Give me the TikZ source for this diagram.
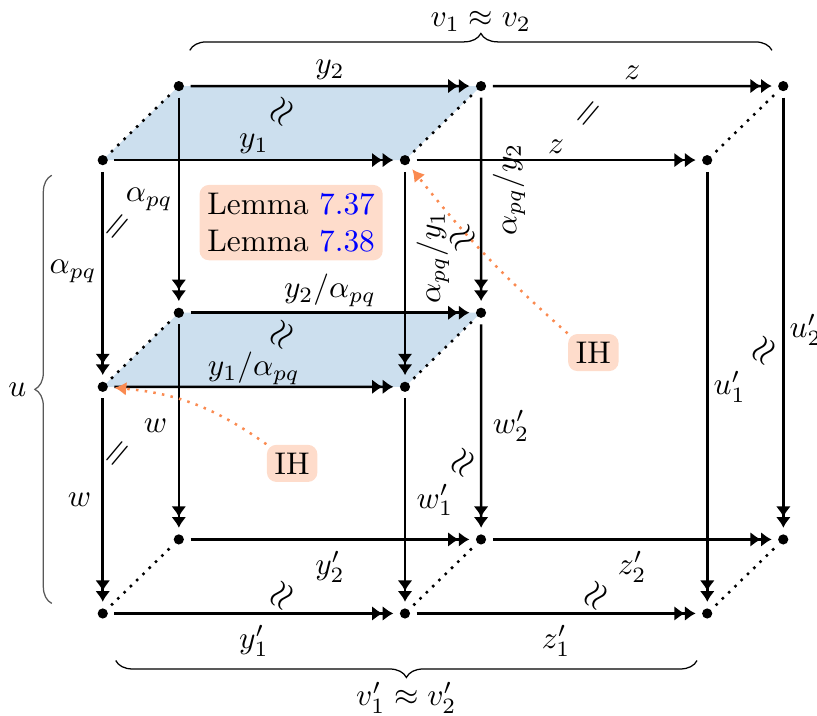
\documentclass[tikz,border=0pt]{standalone}
\usepackage{amsmath}
\usetikzlibrary{arrows.meta,decorations.pathreplacing,backgrounds}

\definecolor{vlakblauw}{RGB}{204,223,238}
\definecolor{ihoranje}{RGB}{250,138,80}

\begin{document}
\begin{tikzpicture}[scale=1.13,
    >={Latex[length=3.4pt,width=4.8pt]},
    punt/.style={circle, fill, inner sep=1.15pt, outer sep=2.1pt},
    pijl/.style={->>, thick},
    stippel/.style={thick, dotted},
    lab/.style={inner sep=1.6pt},
    gelijk/.style={rotate=50, inner sep=0pt, font=\large},
    ongeveer/.style={rotate=60, inner sep=0pt, font=\large},
    kader/.style={fill=ihoranje!30, rounded corners=3pt, inner sep=2.5pt},
    ihpijl/.style={thick, dotted, ihoranje, -{Latex[length=3.8pt,width=4.4pt]}},
    accolade/.style={decorate, decoration={brace, amplitude=5.4pt}, thin}]
    \useasboundingbox (-1.02,-1.01) rectangle (7.09,6.09);

    % Voorste punten
    \node[punt] (f11) at (0,4.5) {};
    \node[punt] (f12) at (3,4.5) {};
    \node[punt] (f13) at (6,4.5) {};
    \node[punt] (f21) at (0,2.25) {};
    \node[punt] (f22) at (3,2.25) {};
    \node[punt] (f31) at (0,0) {};
    \node[punt] (f32) at (3,0) {};
    \node[punt] (f33) at (6,0) {};

    % Achterste punten
    \node[punt] (b11) at (0.755,5.235) {};
    \node[punt] (b12) at (3.755,5.235) {};
    \node[punt] (b13) at (6.755,5.235) {};
    \node[punt] (b21) at (0.755,2.985) {};
    \node[punt] (b22) at (3.755,2.985) {};
    \node[punt] (b31) at (0.755,0.735) {};
    \node[punt] (b32) at (3.755,0.735) {};
    \node[punt] (b33) at (6.755,0.735) {};

    % Blauwe vlakken
    \begin{scope}[on background layer]
        \fill[vlakblauw] (f11.center) -- (f12.center) -- (b12.center) -- (b11.center) -- cycle;
        \fill[vlakblauw] (f21.center) -- (f22.center) -- (b22.center) -- (b21.center) -- cycle;
    \end{scope}

    % Stippellijnen naar achteren
    \foreach \p in {11,12,13,21,22,31,32,33}
        \draw[stippel] (f\p) -- (b\p);

    % Horizontale pijlen
    \draw[pijl] (b11) -- (b12) node[lab, midway, above] {$y_2$};
    \draw[pijl] (f11) -- (f12) node[lab, midway, above] {$y_1$};
    \draw[pijl] (b12) -- (b13) node[lab, midway, above] {$z$};
    \draw[pijl] (f12) -- (f13) node[lab, midway, above] {$z$};
    \draw[pijl] (b21) -- (b22) node[lab, midway, above] {$y_2/\alpha_{pq}$};
    \draw[pijl] (f21) -- (f22) node[midway, above, inner sep=0.4pt] {$y_1/\alpha_{pq}$};
    \draw[pijl] (b31) -- (b32) node[midway, below] {$y'_2$};
    \draw[pijl] (f31) -- (f32) node[midway, below] {$y'_1$};
    \draw[pijl] (b32) -- (b33) node[midway, below] {$z'_2$};
    \draw[pijl] (f32) -- (f33) node[midway, below] {$z'_1$};

    % Verticale pijlen
    \draw[pijl] (b11) -- (b21) node[lab, midway, left] {$\alpha_{pq}$};
    \draw[pijl] (f11) -- (f21) node[lab, pos=0.49, left] {$\alpha_{pq}$};
    \draw[pijl] (b21) -- (b31) node[midway, left] {$w$};
    \draw[pijl] (f21) -- (f31) node[midway, left] {$w$};
    \draw[pijl] (b12) -- (b22) node[pos=0.45, rotate=90, anchor=north] {$\alpha_{pq}/y_2$};
    \draw[pijl] (f12) -- (f22) node[pos=0.42, rotate=90, anchor=north] {$\alpha_{pq}/y_1$};
    \draw[pijl] (b22) -- (b32) node[midway, right] {$w'_2$};
    \draw[pijl] (f22) -- (f32) node[midway, right] {$w'_1$};
    \draw[pijl] (b13) -- (b33) node[lab, pos=0.54, right] {$u'_2$};
    \draw[pijl] (f13) -- (f33) node[lab, midway, right] {$u'_1$};

    % Gelijkheden tussen voor en achter
    \node[ongeveer] (o1) at (1.79,4.98) {$\approx$};
    \node[gelijk] (g1) at (4.84,4.95) {$=$};
    \node[gelijk] (g2) at (0.17,3.82) {$=$};
    \node[gelijk] (g3) at (0.17,1.57) {$=$};
    \node[ongeveer] (o2) at (1.79,2.76) {$\approx$};
    \node[ongeveer, rotate=-25] (o3) at (3.58,3.72) {$\approx$};
    \node[ongeveer] (o4) at (3.59,1.49) {$\approx$};
    \node[ongeveer] (o5) at (6.57,2.60) {$\approx$};
    \node[ongeveer] (o6) at (1.79,0.17) {$\approx$};
    \node[ongeveer] (o7) at (4.91,0.17) {$\approx$};

    % Lemma's en inductiehypothese
    \node[kader, align=left] (lem) at (1.87,3.88)
        {Lemma \textcolor{blue}{7.37}\\Lemma \textcolor{blue}{7.38}};
    \node[kader] (ih1) at (4.87,2.59) {IH};
    \node[kader] (ih2) at (1.88,1.49) {IH};
    \draw[ihpijl] (ih1.north west) to[bend left=5] (f12);
    \draw[ihpijl] (ih2.north west) to[bend right=15] (f21);

    % Accolades
    \draw[accolade] (0.864,5.59) -- (6.643,5.59)
        node[midway, above=2.6pt] {$v_1 \approx v_2$};
    \draw[accolade] (5.899,-0.467) -- (0.129,-0.467)
        node[midway, below=3.3pt] {$v'_1 \approx v'_2$};
    \draw[accolade, black!65] (-0.506,0.1) -- (-0.506,4.35)
        node[midway, left=4.6pt, black] {$u$};
\end{tikzpicture}
\end{document}
